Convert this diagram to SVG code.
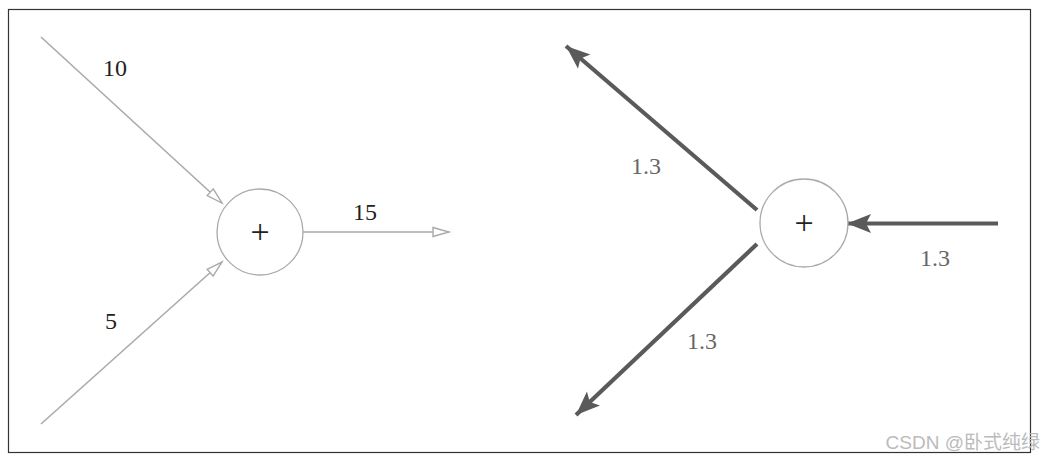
<svg xmlns="http://www.w3.org/2000/svg" width="1042" height="461" viewBox="0 0 1042 461">
<style>
.frame{fill:#fff;stroke:#333;stroke-width:1.2}
.node{fill:#fff;stroke:#aaa;stroke-width:1.3}
.thin{stroke:#aaa;stroke-width:1.6;fill:none}
.thick{stroke:#5a5a5a;stroke-width:4.2;fill:none}
.lbl{font-family:"Liberation Serif","DejaVu Serif",serif;font-size:24px;text-anchor:middle}
.dark{fill:#222}
.grey{fill:#666}
.plus{font-family:"Liberation Serif","DejaVu Serif",serif;font-size:34px;text-anchor:middle;fill:#222}
.wm{font-family:"Liberation Sans","Noto Sans CJK SC",sans-serif;font-size:19px;fill:#bbb;text-anchor:end}
</style>
<defs>
<marker id="open" markerUnits="userSpaceOnUse" markerWidth="20" markerHeight="14" refX="17" refY="7" orient="auto">
<path d="M1,2.5 L17,7 L1,11.5 Z" fill="#fff" stroke="#aaa" stroke-width="1.4"/>
</marker>
<marker id="solid" markerUnits="userSpaceOnUse" markerWidth="26" markerHeight="24" refX="24" refY="12" orient="auto">
<path d="M0,2.5 L24,12 L0,21.5 L5,12 Z" fill="#5a5a5a"/>
</marker>
</defs>
<rect class="frame" x="8.5" y="9.5" width="1022" height="443"/>
<g id="connectors">
<line class="thin" x1="41" y1="37" x2="222" y2="203" marker-end="url(#open)"/>
<line class="thin" x1="41" y1="424" x2="222" y2="262" marker-end="url(#open)"/>
<line class="thin" x1="303" y1="232" x2="449" y2="232" marker-end="url(#open)"/>
<line class="thick" x1="998" y1="223.5" x2="847" y2="223.5" marker-end="url(#solid)"/>
<line class="thick" x1="757" y1="210" x2="566" y2="46" marker-end="url(#solid)"/>
<line class="thick" x1="757" y1="244" x2="576" y2="415" marker-end="url(#solid)"/>
</g>
<g id="labels">
<text class="lbl dark" x="115" y="76">10</text>
<text class="lbl dark" x="111" y="329">5</text>
<text class="lbl dark" x="365" y="220">15</text>
<text class="lbl grey" x="646" y="174">1.3</text>
<text class="lbl grey" x="702" y="349">1.3</text>
<text class="lbl grey" x="935" y="266">1.3</text>
</g>
<g id="node-left">
<circle class="node" cx="260" cy="232" r="43"/>
<text class="plus" x="260" y="243">+</text>
</g>
<g id="node-right">
<circle class="node" cx="804" cy="223" r="44"/>
<text class="plus" x="804" y="234">+</text>
</g>
<text class="wm" x="1040" y="449">CSDN @卧式纯绿</text>
</svg>
